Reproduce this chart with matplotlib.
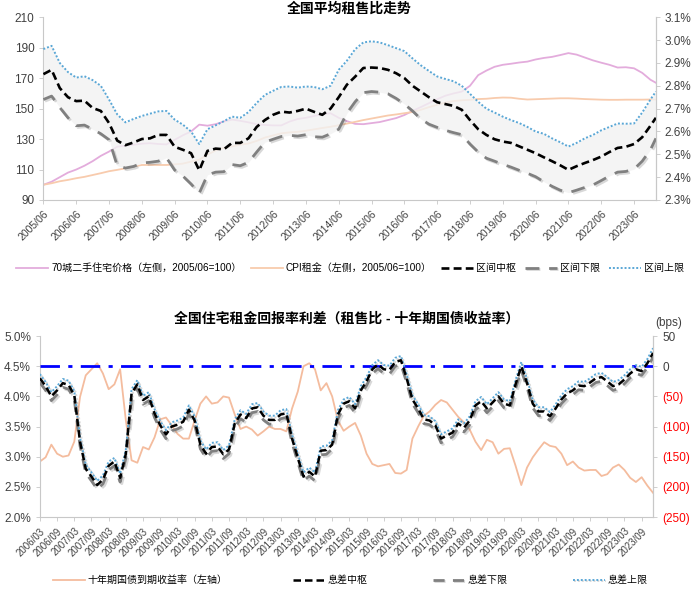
import numpy as np
import matplotlib
matplotlib.use("Agg")
import matplotlib.pyplot as plt
import matplotlib.patheffects as pe
from matplotlib.ticker import FuncFormatter, FixedLocator

plt.rcParams["font.family"] = ["Liberation Sans", "Noto Sans CJK SC", "DejaVu Sans"]

# ============================================================
# DATA - top chart (quarterly points, month offset from 2005/06)
# ============================================================

top_months = list(range(0, 223, 3)) + [224]
top_tick_labels = [f"{y}/06" for y in range(2005, 2024)]

price_70 = [100, 102, 105, 108, 110, 112.5, 115.5, 119, 121.8, 125,
            125.7, 126.3, 127, 127.3, 126.8, 126.5, 129.5, 132.5, 135, 139.5,
            138.8, 139.8, 141.5, 142.8, 142, 141, 139.8, 139.3, 139, 139,
            141.5, 143.2, 144, 145.2, 146.3, 147, 144, 141.8, 140, 139.8,
            140.5, 141.2, 142.5, 143.8, 145.8, 148.5, 151, 153.6, 156.2, 158.5,
            160, 161.2, 165, 172, 175, 177.5, 178.8, 179.5, 180.3, 180.9,
            182.3, 183.3, 184, 185.2, 186.5, 185.5, 183.6, 181.7, 180.2, 178.8,
            177, 177.2, 176.5, 173.5, 169, 167]

cpi_rent = [100, 101, 102.3, 103.2, 104.3, 105.2, 106.4, 107.6, 108.9, 109.8,
            110.8, 112, 113, 113, 113, 113, 113.4, 113.9, 115.2, 116.5,
            119.8, 122.5, 124.2, 125.2, 126.3, 127.1, 128.8, 131, 132.4, 133.8,
            134.4, 134.8, 135.5, 136.4, 137.3, 138.1, 139.1, 140.2, 141.3, 142.5,
            143.5, 144.5, 145.5, 146.2, 147, 147.8, 149.2, 151, 152.5, 154,
            155, 155.5, 155.8, 156.3, 156.5, 157, 157.3, 157.2, 156.5, 156,
            156.2, 156.4, 156.6, 156.8, 156.8, 156.6, 156.3, 156.1, 155.9, 155.8,
            155.8, 155.9, 155.9, 155.9, 156, 156]

ratio_mid = [2.851, 2.870, 2.79, 2.75, 2.733, 2.735, 2.703, 2.69, 2.637, 2.56,
             2.54, 2.552, 2.567, 2.57, 2.585, 2.585, 2.533, 2.52, 2.505, 2.43,
             2.515, 2.525, 2.522, 2.55, 2.55, 2.57, 2.62, 2.65, 2.673, 2.687,
             2.683, 2.69, 2.70, 2.686, 2.673, 2.70, 2.75, 2.805, 2.84, 2.878,
             2.88, 2.878, 2.87, 2.855, 2.834, 2.80, 2.775, 2.75, 2.728, 2.72,
             2.712, 2.695, 2.65, 2.61, 2.585, 2.566, 2.556, 2.55, 2.535, 2.52,
             2.505, 2.487, 2.47, 2.452, 2.432, 2.448, 2.462, 2.475, 2.49, 2.51,
             2.528, 2.533, 2.545, 2.575, 2.625, 2.66]

ratio_upper = [2.961, 2.975, 2.90, 2.86, 2.836, 2.842, 2.825, 2.80, 2.74, 2.675,
               2.64, 2.655, 2.668, 2.678, 2.688, 2.69, 2.652, 2.63, 2.60, 2.545,
               2.61, 2.627, 2.645, 2.665, 2.66, 2.685, 2.725, 2.76, 2.778, 2.795,
               2.797, 2.792, 2.797, 2.795, 2.785, 2.80, 2.87, 2.91, 2.96, 2.99,
               2.995, 2.99, 2.978, 2.965, 2.952, 2.92, 2.89, 2.865, 2.841, 2.83,
               2.82, 2.80, 2.765, 2.73, 2.70, 2.683, 2.665, 2.65, 2.637, 2.62,
               2.60, 2.59, 2.57, 2.553, 2.534, 2.55, 2.57, 2.585, 2.605, 2.62,
               2.635, 2.634, 2.635, 2.683, 2.74, 2.775]

ratio_lower = [2.74, 2.755, 2.705, 2.66, 2.625, 2.628, 2.61, 2.59, 2.564, 2.45,
               2.44, 2.447, 2.462, 2.465, 2.47, 2.485, 2.431, 2.405, 2.37, 2.33,
               2.41, 2.422, 2.424, 2.455, 2.45, 2.465, 2.51, 2.553, 2.566, 2.578,
               2.583, 2.58, 2.586, 2.577, 2.575, 2.59, 2.61, 2.68, 2.73, 2.77,
               2.775, 2.772, 2.765, 2.745, 2.72, 2.69, 2.655, 2.632, 2.618, 2.605,
               2.595, 2.586, 2.545, 2.51, 2.483, 2.47, 2.456, 2.444, 2.43, 2.417,
               2.402, 2.38, 2.36, 2.343, 2.332, 2.343, 2.355, 2.366, 2.385, 2.405,
               2.422, 2.425, 2.435, 2.47, 2.52, 2.57]

# ============================================================
# DATA - bottom chart (2-month points, month offset from 2006/03)
# ============================================================

bot_months = list(range(0, 215, 2))
bot_tick_labels = [f"{2006 + i // 2}/{'03' if i % 2 == 0 else '09'}" for i in range(36)]

bond_10y = [2.92, 2.99, 3.2, 3.05, 3.0, 3.02, 3.25, 3.99, 4.35, 4.45,
            4.55, 4.38, 4.12, 4.2, 4.45, 3.6, 2.94, 2.9, 3.16, 3.12,
            3.32, 3.62, 3.65, 3.52, 3.38, 3.3, 3.3, 3.6, 3.88, 4.0,
            3.88, 3.9, 4.0, 3.98, 3.7, 3.46, 3.5, 3.45, 3.35, 3.42,
            3.5, 3.46, 3.46, 3.42, 3.8, 4.08, 4.5, 4.55, 4.45, 4.1,
            4.22, 4.0, 3.6, 3.43, 3.5, 3.56, 3.35, 3.05, 2.88, 2.84,
            2.86, 2.88, 2.73, 2.72, 2.78, 3.3, 3.5, 3.68, 3.75, 3.86,
            3.94, 3.9, 3.78, 3.66, 3.57, 3.45, 3.25, 3.11, 3.28, 3.24,
            3.05, 3.13, 3.14, 2.85, 2.53, 2.82, 2.99, 3.12, 3.24, 3.18,
            3.16, 3.05, 2.86, 2.92, 2.82, 2.77, 2.78, 2.78, 2.68, 2.71,
            2.82, 2.87, 2.78, 2.65, 2.58, 2.66, 2.52, 2.4]

spread_mid = [-20, -33, -50, -40, -28, -31, -48, -125, -170, -183,
              -197, -188, -165, -158, -185, -145, -45, -30, -56, -50,
              -78, -98, -113, -100, -97, -92, -72, -90, -130, -145,
              -134, -133, -146, -138, -95, -80, -86, -70, -68, -82,
              -89, -89, -80, -78, -120, -152, -183, -175, -183, -140,
              -139, -130, -80, -62, -58, -70, -40, -25, -5, 3,
              -5, -6, 7, 10, -20, -55, -70, -88, -90, -98,
              -120, -115, -110, -95, -102, -90, -65, -58, -70, -60,
              -50, -62, -65, -30, 0, -28, -62, -75, -75, -83,
              -70, -55, -45, -40, -32, -33, -27, -20, -18, -25,
              -33, -30, -22, -12, -5, -8, 5, 22]

spread_upper = [-13, -26, -43, -33, -21, -24, -41, -118, -163, -176,
                -190, -181, -158, -152, -178, -138, -38, -23, -49, -43,
                -71, -91, -106, -93, -90, -85, -65, -83, -123, -138,
                -127, -126, -139, -131, -88, -73, -79, -63, -61, -75,
                -82, -82, -73, -71, -113, -145, -176, -168, -176, -133,
                -132, -123, -73, -55, -51, -63, -33, -18, 2, 10,
                2, 1, 14, 17, -13, -48, -63, -81, -83, -91,
                -113, -108, -103, -88, -95, -83, -58, -51, -63, -53,
                -43, -55, -58, -23, 7, -21, -55, -68, -68, -76,
                -63, -48, -38, -33, -25, -26, -20, -13, -11, -18,
                -26, -23, -15, -5, 2, -1, 12, 30]

spread_lower = [-27, -40, -57, -47, -35, -38, -55, -132, -177, -190,
                -204, -195, -172, -165, -192, -152, -52, -37, -63, -57,
                -85, -105, -120, -107, -104, -99, -79, -97, -137, -152,
                -141, -140, -153, -145, -102, -87, -93, -77, -75, -89,
                -96, -96, -87, -85, -127, -159, -190, -182, -190, -147,
                -146, -137, -87, -69, -65, -77, -47, -32, -12, -4,
                -12, -13, 0, 3, -27, -62, -77, -95, -97, -105,
                -127, -122, -117, -102, -109, -97, -72, -65, -77, -67,
                -57, -69, -72, -37, -7, -35, -69, -82, -82, -90,
                -77, -62, -52, -47, -39, -40, -34, -27, -25, -32,
                -40, -37, -29, -19, -12, -15, -2, 15]

# ============================================================
# STYLE
# ============================================================

PINK = "#e3acdc"
PEACH = "#f8cbad"
SALMON = "#f4bc9e"
BLUE_DOT = "#5aa7d6"
GRAY_DASH = "#808080"
AXIS_GRAY = "#c8c8c8"

shadow = [pe.SimpleLineShadow(offset=(1.2, -1.2), shadow_color="#666666", alpha=0.25), pe.Normal()]


def style_axes(ax):
    ax.spines["top"].set_visible(False)
    for side in ("left", "bottom", "right"):
        ax.spines[side].set_color(AXIS_GRAY)
    ax.tick_params(colors="#404040", length=3, width=0.6, color=AXIS_GRAY)


fig = plt.figure(figsize=(7.0, 5.97), dpi=100)

# ============================================================
# TOP CHART
# ============================================================

ax1 = fig.add_axes([0.062, 0.665, 0.875, 0.306])
ax1r = ax1.twinx()

ax1.plot(top_months, price_70, color=PINK, lw=1.3, label="70城二手住宅价格（左侧，2005/06=100）")
ax1.plot(top_months, cpi_rent, color=PEACH, lw=1.3, label="CPI租金（左侧，2005/06=100）")

ax1r.fill_between(top_months, ratio_lower, ratio_upper, color="#f2f2f2", alpha=0.8, lw=0)
ax1r.plot(top_months, ratio_mid, color="black", lw=1.9, dashes=(3, 1.6), label="区间中枢")
ax1r.plot(top_months, ratio_lower, color=GRAY_DASH, lw=2.0, dashes=(5, 3.5),
          path_effects=shadow, label="区间下限")
ax1r.plot(top_months, ratio_upper, color=BLUE_DOT, lw=1.4, dashes=(1, 1), label="区间上限")

ax1.set_xlim(0, 224)
ax1.set_ylim(90, 210)
ax1.set_yticks(range(90, 211, 20))
ax1r.set_ylim(2.3, 3.1)
ax1r.set_yticks(np.arange(2.3, 3.11, 0.1))
ax1r.yaxis.set_major_formatter(FuncFormatter(lambda v, p: f"{v:.1f}%"))

ax1.xaxis.set_major_locator(FixedLocator(list(range(0, 217, 12))))
ax1.set_xticklabels(top_tick_labels, rotation=45, ha="right", rotation_mode="anchor", fontsize=7.5)
ax1.tick_params(axis="y", labelsize=8.5, length=0)
ax1r.tick_params(axis="y", labelsize=8.5)
style_axes(ax1)
style_axes(ax1r)
ax1r.spines["left"].set_visible(False)
ax1r.spines["bottom"].set_visible(False)

ax1.set_title("全国平均租售比走势", fontsize=10, fontweight="bold", pad=3)

h1, l1 = ax1.get_legend_handles_labels()
h2, l2 = ax1r.get_legend_handles_labels()
fig.legend(h1 + h2, l1 + l2, loc="center", bbox_to_anchor=(0.5, 1 - 268 / 597), ncol=5,
           frameon=False, fontsize=7.2, handlelength=3.2, columnspacing=0.9, handletextpad=0.3)

# ============================================================
# BOTTOM CHART
# ============================================================

ax2 = fig.add_axes([0.057, 0.134, 0.876, 0.303])
ax2r = ax2.twinx()

ax2.plot(bot_months, bond_10y, color=SALMON, lw=1.3, label="十年期国债到期收益率（左轴）")

ax2r.axhline(0, color="#0000ff", lw=2, dashes=(7, 3, 1.5, 3))
ax2r.plot(bot_months, spread_lower, color=GRAY_DASH, lw=2, dashes=(4, 3), path_effects=shadow, label="息差下限")
ax2r.plot(bot_months, spread_upper, color=BLUE_DOT, lw=1.4, dashes=(1, 1), path_effects=shadow, label="息差上限")
ax2r.plot(bot_months, spread_mid, color="black", lw=1.8, dashes=(3, 1.6), label="息差中枢")

ax2.set_xlim(0, 214)
ax2.set_ylim(2.0, 5.0)
ax2.set_yticks(np.arange(2.0, 5.01, 0.5))
ax2.yaxis.set_major_formatter(FuncFormatter(lambda v, p: f"{v:.1f}%"))
ax2r.set_ylim(-250, 50)
ax2r.set_yticks(range(-250, 51, 50))
ax2r.yaxis.set_major_formatter(FuncFormatter(lambda v, p: f"({abs(int(v))})" if v < 0 else f"{int(v)}"))

ax2.xaxis.set_major_locator(FixedLocator(list(range(0, 211, 6))))
ax2.set_xticklabels(bot_tick_labels, rotation=45, ha="right", rotation_mode="anchor", fontsize=7)
ax2.tick_params(axis="y", labelsize=8.5, length=0)
ax2r.tick_params(axis="y", labelsize=8.5)
style_axes(ax2)
style_axes(ax2r)
ax2r.spines["left"].set_visible(False)
ax2r.spines["bottom"].set_visible(False)
for lab in ax2r.get_yticklabels():
    if lab.get_text().startswith("("):
        lab.set_color("#ff0000")

ax2.set_title("全国住宅租金回报率利差（租售比 - 十年期国债收益率）", fontsize=10, fontweight="bold", pad=10)
fig.text(0.955, 1 - 323 / 597, "(bps)", fontsize=8.5, ha="center", va="center", color="#404040")

h1, l1 = ax2.get_legend_handles_labels()
h2, l2 = ax2r.get_legend_handles_labels()
order = [0, 3, 1, 2]
handles = (h1 + h2)
labels = (l1 + l2)
fig.legend([handles[i] for i in order], [labels[i] for i in order], loc="center",
           bbox_to_anchor=(0.5, 1 - 580 / 597), ncol=4, frameon=False, fontsize=7.2,
           handlelength=3.2, columnspacing=6.5, handletextpad=0.3)

fig.savefig("out.png", dpi=100)
